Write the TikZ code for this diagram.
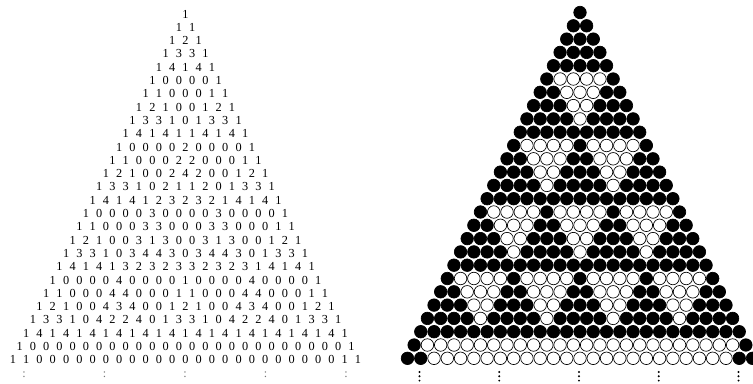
\documentclass[tikz,border=0pt]{standalone}
\usepackage{fontspec}
\setmainfont{Liberation Serif}
\usetikzlibrary{positioning}

\tikzset{
  num/.style={inner sep=0pt, font=\fontsize{9.2}{11}\selectfont},
  ball/.style={circle, draw=black, fill=black, line width=0.5pt,
               minimum size=9.4pt, inner sep=0pt},
}

\begin{document}
\begin{tikzpicture}[x=0.75pt, y=-0.75pt]
  \useasboundingbox (0,0) rectangle (753,383);

  % Pascal triangle mod 5: numbers left, circles right
  \foreach \r in {0,...,26}{
    \foreach \k in {0,...,\r}{
      \ifnum\k=0 \def\v{1}\else\ifnum\k=\r \def\v{1}\else
        \pgfmathtruncatemacro{\rp}{\r-1}
        \pgfmathtruncatemacro{\kp}{\k-1}
        \edef\va{\csname pv-\rp-\kp\endcsname}
        \edef\vb{\csname pv-\rp-\k\endcsname}
        \pgfmathtruncatemacro{\v}{mod(\va+\vb,5)}
      \fi\fi
      \expandafter\xdef\csname pv-\r-\k\endcsname{\v}
      \ifnum\v=0 \def\fc{white}\else\def\fc{black}\fi
      \node[num] (n-\r-\k) at ({185.5+(\k-\r/2)*13.27},{14+\r*13.3}) {\v};
      \node[ball, fill=\fc] (c-\r-\k) at ({580+(\k-\r/2)*13.27},{12.5+\r*13.3}) {};
    }
  }

  % continuation marks
  \foreach \i in {-2,...,2}{
    \node[num, text=black!55] (lc\i) at ({185+80.5*\i},375) {:};
    \foreach \j in {0,1,2}
      \fill ({579+79.75*\i},{372+4.3*\j}) circle (1.1);
  }
\end{tikzpicture}
\end{document}
